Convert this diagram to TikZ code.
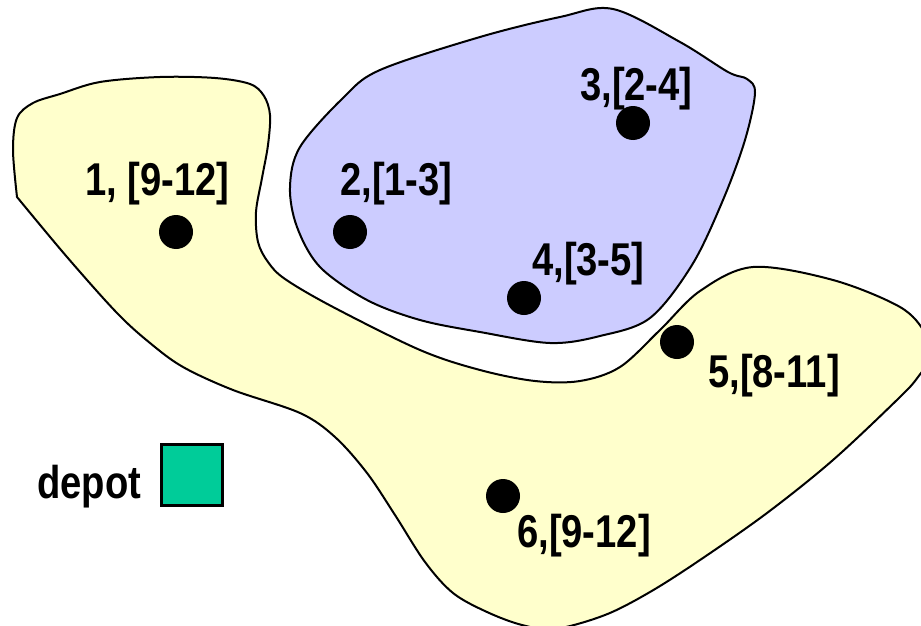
\documentclass[tikz,border=0pt]{standalone}
\usepackage{fontspec}
\newfontfamily\lab[FakeStretch=0.83]{Liberation Sans Bold}
\definecolor{yfill}{HTML}{FFFFCC}
\definecolor{bfill}{HTML}{CCCCFF}
\definecolor{depotc}{HTML}{00CC99}
\tikzset{
  region/.style={draw=black, line width=2pt, line join=round},
  cust/.style={circle, fill=black, minimum size=34pt, inner sep=0pt},
  lbl/.style={anchor=base west, inner sep=0pt, font=\lab\fontsize{46}{46}\selectfont},
  depotbox/.style={draw=black, line width=3pt, fill=depotc, minimum size=61pt, inner sep=0pt}
}
\begin{document}
\begin{tikzpicture}[x=1pt,y=-1pt]
\useasboundingbox (0,0) rectangle (921,626);
\clip (0,0) rectangle (921,626);
% yellow cluster
\draw[region, fill=yfill] plot[smooth, tension=0.55] coordinates {
 (17,197) (13,150) (17,118) (33,103) (60,94) (100,82) (160,77) (215,78)
 (250,84) (264,96) (270,115) (268,145) (262,178) (256,212) (258,242)
 (268,262) (285,279) (333,307) (420,350) (480,370) (535,381) (580,381)
 (620,367) (660,330) (700,291) (753,267) (833,280) (900,307) (925,333)
 (930,357) (918,377) (900,397) (833,460) (767,513) (700,560) (650,592)
 (605,615) (555,629) (522,625) (487,612) (453,593) (425,562) (395,515)
 (367,473) (335,437) (300,413) (233,390) (183,367) (150,343) (117,313)
 (67,257) (17,197)} -- cycle;
% blue cluster
\draw[region, fill=bfill] plot[smooth cycle, tension=0.55] coordinates {
 (613,9) (680,42) (728,72) (747,79) (755,93) (745,140) (723,200)
 (692,265) (650,318) (600,336) (550,343) (480,332) (420,320) (367,300)
 (320,267) (297,227) (290,187) (300,147) (343,98) (380,70) (480,37) (560,17)};
% customers
\node[cust] (c1) at (176,232) {};
\node[cust] (c2) at (350,232) {};
\node[cust] (c3) at (633,123) {};
\node[cust] (c4) at (524,298) {};
\node[cust] (c5) at (677,342) {};
\node[cust] (c6) at (503,496) {};
\node[lbl] (l1) at (85,195) {1, [9-12]};
\node[lbl] (l2) at (340,195) {2,[1-3]};
\node[lbl] (l3) at (580,100) {3,[2-4]};
\node[lbl] (l4) at (532,275) {4,[3-5]};
\node[lbl] (l5) at (708,387) {5,[8-11]};
\node[lbl] (l6) at (517,547) {6,[9-12]};
% depot
\node[depotbox] (depot) at (192,475) {};
\node[lbl] (dl) at (37,498) {depot};
\end{tikzpicture}
\end{document}
